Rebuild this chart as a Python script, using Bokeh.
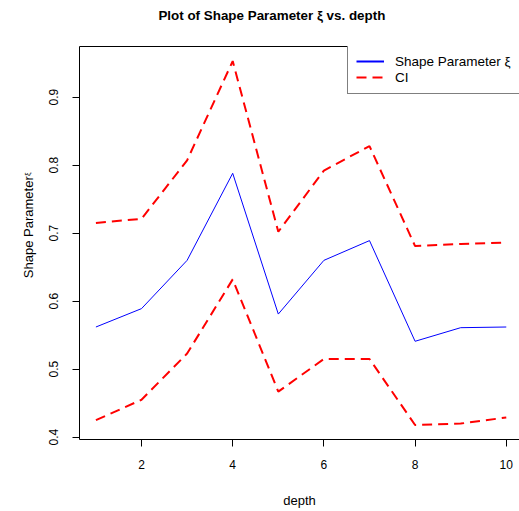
import math

from bokeh.embed import file_html
from bokeh.models import FixedTicker, Legend, LegendItem, LinearAxis, Range1d
from bokeh.plotting import figure
from bokeh.resources import INLINE

# Shape parameter estimates and confidence bounds by depth
depth = [1, 2, 3, 4, 5, 6, 7, 8, 9, 10]
shape_xi = [0.562, 0.589, 0.660, 0.788, 0.581, 0.660, 0.689, 0.541, 0.561, 0.562]
ci_upper = [0.715, 0.721, 0.807, 0.953, 0.702, 0.792, 0.828, 0.681, 0.684, 0.686]
ci_lower = [0.425, 0.455, 0.523, 0.632, 0.467, 0.515, 0.515, 0.418, 0.420, 0.429]

x_ticks = [2, 4, 6, 8, 10]
y_ticks = [0.4, 0.5, 0.6, 0.7, 0.8, 0.9]

TITLE = "Plot of Shape Parameter \u03be vs. depth"
FONT = "Liberation Sans"
W, H = 519, 511
NAN = float("nan")

# y range padded by 4% on each side of the data
y_lo = min(ci_lower)
y_hi = max(ci_upper)
y_pad = 0.04 * (y_hi - y_lo)

p = figure(
    width=W,
    height=H,
    output_backend="svg",
    toolbar_location=None,
    title_location=None,
    x_range=Range1d(0.64, 10.29),
    y_range=Range1d(y_lo - y_pad, y_hi + y_pad),
    min_border_left=79,
    min_border_right=0,
    min_border_top=46,
    min_border_bottom=72,
)
p.outline_line_color = None
p.background_fill_color = "white"
p.border_fill_color = "white"
p.xgrid.grid_line_color = None
p.ygrid.grid_line_color = None

for ax in (p.xaxis[0], p.yaxis[0]):
    ax.axis_line_color = "black"
    ax.major_tick_line_color = "black"
    ax.major_tick_out = 7
    ax.major_tick_in = 0
    ax.minor_tick_out = 0
    ax.minor_tick_in = 0
    ax.major_label_text_font = FONT
    ax.major_label_text_font_size = "12px"
    ax.major_label_text_color = "black"
    ax.axis_label_text_font = FONT
    ax.axis_label_text_font_size = "13px"
    ax.axis_label_text_font_style = "normal"
    ax.axis_label_text_color = "black"

p.xaxis.ticker = FixedTicker(ticks=x_ticks)
p.xaxis.major_label_standoff = 13
p.xaxis.axis_label = "depth"
p.xaxis.axis_label_standoff = 21

p.yaxis.ticker = FixedTicker(ticks=y_ticks)
p.yaxis.major_label_orientation = "vertical"
p.yaxis.major_label_standoff = 14


def text_axis(side, text, at, size, standoff, orientation="horizontal",
              bold=False, line_color=None):
    """Axis that carries a single text at value `at` and no ticks."""
    ax = LinearAxis(
        ticker=FixedTicker(ticks=[at]),
        major_label_overrides={at: text},
        major_label_orientation=orientation,
        major_label_standoff=standoff,
        major_label_text_font=FONT,
        major_label_text_font_size=size,
        major_label_text_font_style="bold" if bold else "normal",
        major_label_text_color="black",
        axis_line_color=line_color,
        major_tick_line_color=None,
        major_tick_out=0,
        major_tick_in=0,
        minor_tick_out=0,
        minor_tick_in=0,
    )
    p.add_layout(ax, side)
    return ax


# plot title; its axis line closes the top of the box
text_axis("above", TITLE, 4.86, "13.4px", 24, bold=True, line_color="black")

# y-axis title, with the small xi beside it
text_axis("left", "Shape Parameter", 0.7087, "13px", 10, orientation="vertical")
text_axis("left", "\u03be", 0.7865, "8px", -14, orientation="vertical")

# data lines
p.line(depth, shape_xi, line_color="blue", line_width=1)
p.line(depth, ci_upper, line_color="red", line_width=2, line_dash="10 6")
p.line(depth, ci_lower, line_color="red", line_width=2, line_dash="10 6")

# legend keys
key_xi = p.line([NAN], [NAN], line_color="blue", line_width=2)
key_ci = p.line([NAN], [NAN], line_color="red", line_width=2, line_dash="10 6")

legend = Legend(
    items=[
        LegendItem(label="Shape Parameter \u03be", renderers=[key_xi]),
        LegendItem(label="CI", renderers=[key_ci]),
    ],
    location=(268, 345),
    border_line_color="black",
    border_line_width=1,
    background_fill_color="white",
    background_fill_alpha=1.0,
    padding=8,
    spacing=0,
    margin=0,
    label_height=16,
    glyph_height=16,
    glyph_width=28,
    label_standoff=11,
    label_text_font=FONT,
    label_text_font_size="13.5px",
    label_text_color="black",
)
p.add_layout(legend)

open("out.html", "w").write(file_html(p, INLINE))
